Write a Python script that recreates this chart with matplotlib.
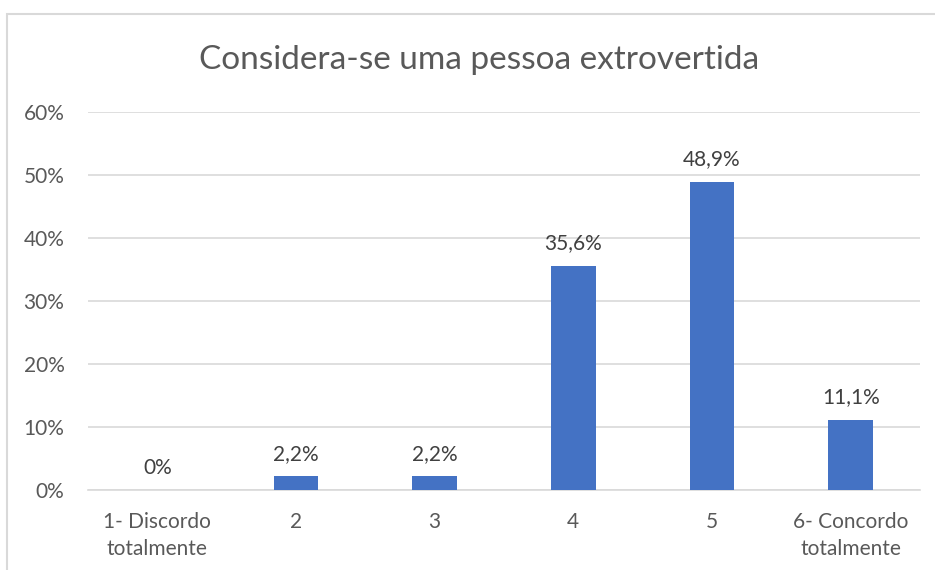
import matplotlib
matplotlib.use("Agg")
import matplotlib.pyplot as plt
from matplotlib.patches import Rectangle

categories = ["1- Discordo\ntotalmente", "2", "3", "4", "5", "6- Concordo\ntotalmente"]
values = [0.0, 2.2, 2.2, 35.6, 48.9, 11.1]
labels = ["0%", "2,2%", "2,2%", "35,6%", "48,9%", "11,1%"]
yticks = [0, 10, 20, 30, 40, 50, 60]
title = "Considera-se uma pessoa extrovertida"

plt.rcParams['font.family'] = ['Lato', 'DejaVu Sans']
W, H = 935, 570
fig = plt.figure(figsize=(W/100, H/100), dpi=100)
fig.patch.set_facecolor("white")

# chart border
fig.add_artist(Rectangle((7/W, -0.05), 1.2, (1 - 14/H) + 0.05, transform=fig.transFigure,
                         fill=False, edgecolor="#D9D9D9", linewidth=1.5))

ax = fig.add_axes([88/W, 1 - 490/H, (920 - 88)/W, (490 - 112)/H])
x = list(range(len(categories)))
ax.bar(x, values, width=0.32, color="#4472C4", zorder=3)
ax.set_xlim(-0.5, len(categories) - 0.5)
ax.set_ylim(0, 60)
ax.set_yticks(yticks)
ax.set_yticklabels([f"{t}%" for t in yticks])
ax.set_xticks(x)
ax.set_xticklabels(categories, linespacing=1.45)
ax.grid(axis="y", color="#D9D9D9", linewidth=1.2, zorder=0)
for s in ["top", "right", "left"]:
    ax.spines[s].set_visible(False)
ax.spines["bottom"].set_color("#D9D9D9")
ax.spines["bottom"].set_linewidth(1.2)
ax.tick_params(axis="both", length=0, colors="#595959", labelsize=15)
ax.tick_params(axis="y", pad=17)
ax.tick_params(axis="x", pad=16)

for xi, v, lab in zip(x, values, labels):
    ax.annotate(lab, (xi, v), xytext=(0, 9), textcoords="offset points",
                ha="center", va="bottom", fontsize=15, color="#404040")

fig.text(0.512, 1 - 60/H, title, ha="center", va="center", fontsize=24, color="#595959")

fig.savefig("out.png", dpi=100)
